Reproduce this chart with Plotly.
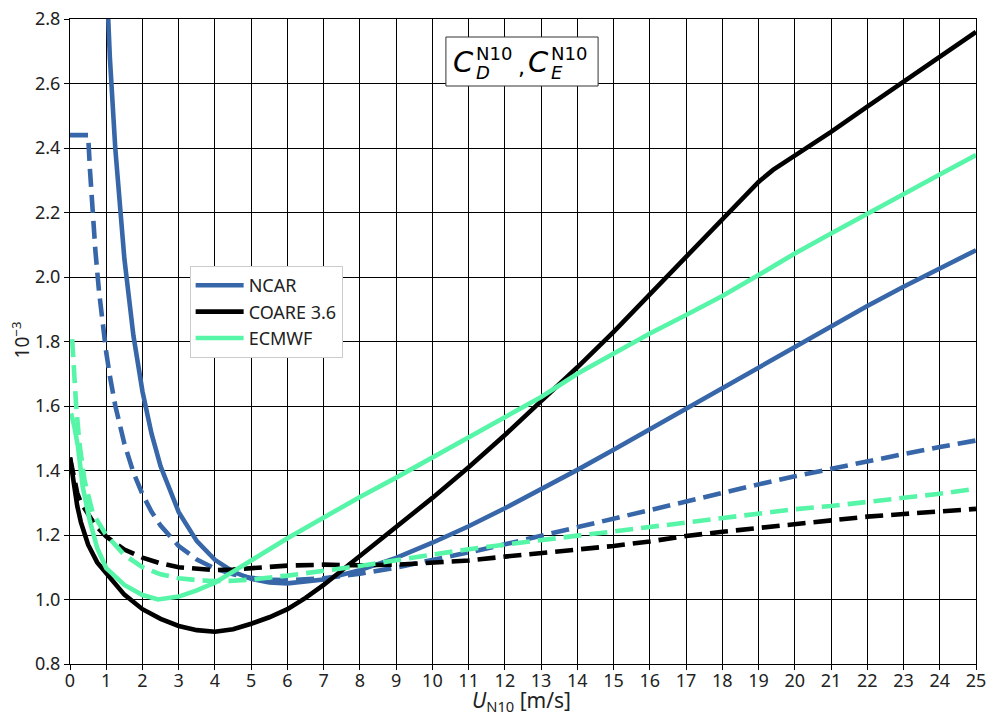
import plotly.graph_objects as go

# ---------------- data ----------------
ncar_cd_u = [0.9, 1.0, 1.1, 1.25, 1.5, 1.75, 2.0, 2.25, 2.5, 3.0, 3.5, 4.0, 4.5, 5.0, 5.5, 6.0,
             7.0, 8.0, 9.0, 10.0, 11.0, 12.0, 13.0, 14.0, 15.0, 16.0, 17.0, 18.0, 19.0, 20.0,
             21.0, 22.0, 23.0, 24.0, 25.0]
ncar_cd = [3.211, 2.918, 2.681, 2.398, 2.057, 1.818, 1.645, 1.514, 1.413, 1.271, 1.181, 1.123, 1.086,
           1.064, 1.053, 1.050, 1.062, 1.091, 1.129, 1.176, 1.227, 1.283, 1.341, 1.402, 1.464, 1.528,
           1.592, 1.656, 1.721, 1.785, 1.848, 1.910, 1.970, 2.028, 2.083]

ncar_ce_u = [0.0, 0.5, 0.55, 0.6, 0.7, 0.8, 0.9, 1.0, 1.1, 1.25, 1.5, 1.75, 2.0, 2.25, 2.5, 3.0, 3.5,
             4.0, 4.5, 5.0, 5.5, 6.0, 7.0, 8.0, 9.0, 10.0, 11.0, 12.0, 13.0, 14.0, 15.0, 16.0, 17.0,
             18.0, 19.0, 20.0, 21.0, 22.0, 23.0, 24.0, 25.0]
ncar_ce = [2.44, 2.44, 2.334, 2.239, 2.082, 1.956, 1.853, 1.766, 1.693, 1.601, 1.483, 1.394, 1.326,
           1.272, 1.229, 1.166, 1.124, 1.096, 1.078, 1.067, 1.061, 1.060, 1.066, 1.080, 1.099, 1.121,
           1.146, 1.171, 1.198, 1.224, 1.251, 1.278, 1.305, 1.331, 1.357, 1.382, 1.406, 1.429, 1.451,
           1.473, 1.493]

coare_cd_u = [0.0, 0.1, 0.2, 0.3, 0.5, 0.75, 1.0, 1.5, 2.0, 2.5, 3.0, 3.5, 4.0, 4.5, 5.0, 5.5, 6.0,
              6.5, 7.0, 7.5, 8.0, 9.0, 10.0, 11.0, 12.0, 13.0, 14.0, 15.0, 16.0, 17.0, 18.0, 19.0,
              19.4, 20.0, 21.0, 22.0, 23.0, 24.0, 25.0]
coare_cd = [1.44, 1.36, 1.29, 1.24, 1.17, 1.115, 1.08, 1.015, 0.97, 0.94, 0.918, 0.905, 0.90, 0.908,
            0.925, 0.945, 0.97, 1.005, 1.045, 1.09, 1.135, 1.225, 1.315, 1.41, 1.51, 1.615, 1.72,
            1.83, 1.945, 2.06, 2.18, 2.295, 2.332, 2.375, 2.45, 2.528, 2.605, 2.683, 2.76]

coare_ce_u = [0.0, 0.1, 0.2, 0.3, 0.45, 0.7, 1.0, 1.5, 2.0, 2.5, 3.0, 3.5, 4.0, 4.5, 5.0, 6.0, 7.0,
              8.0, 9.0, 10.0, 11.0, 12.0, 13.0, 14.0, 15.0, 16.0, 17.0, 18.0, 19.0, 20.0, 21.0,
              22.0, 23.0, 24.0, 25.0]
coare_ce = [1.44, 1.38, 1.33, 1.30, 1.275, 1.23, 1.195, 1.155, 1.13, 1.112, 1.10, 1.094, 1.091,
            1.093, 1.097, 1.105, 1.108, 1.106, 1.108, 1.114, 1.121, 1.133, 1.143, 1.153, 1.166,
            1.18, 1.197, 1.21, 1.222, 1.236, 1.247, 1.257, 1.265, 1.273, 1.281]

ecmwf_cd_u = [0.03, 0.12, 0.22, 0.35, 0.54, 0.75, 1.0, 1.5, 2.0, 2.43, 3.0, 3.5, 4.0, 4.5, 5.0, 6.0,
              7.0, 8.0, 9.0, 10.0, 11.0, 12.0, 13.0, 14.0, 15.0, 16.0, 17.0, 18.0, 19.0, 20.0,
              21.0, 22.0, 23.0, 24.0, 25.0]
ecmwf_cd = [1.577, 1.536, 1.474, 1.35, 1.247, 1.16, 1.097, 1.045, 1.014, 1.0, 1.009, 1.028, 1.052,
            1.085, 1.121, 1.19, 1.255, 1.318, 1.378, 1.44, 1.50, 1.565, 1.628, 1.70, 1.763, 1.825,
            1.882, 1.941, 2.006, 2.073, 2.135, 2.197, 2.256, 2.318, 2.378]

ecmwf_ce_u = [0.06, 0.1, 0.17, 0.26, 0.4, 0.63, 1.0, 1.5, 2.0, 2.5, 3.0, 3.5, 4.0, 4.5, 5.0, 6.0,
              7.0, 8.0, 9.0, 10.0, 11.0, 12.0, 13.0, 14.0, 15.0, 16.0, 17.0, 18.0, 19.0, 20.0,
              21.0, 22.0, 23.0, 24.0, 25.0]
ecmwf_ce = [1.807, 1.72, 1.60, 1.484, 1.37, 1.267, 1.20, 1.138, 1.10, 1.078, 1.066, 1.06, 1.057,
            1.058, 1.062, 1.074, 1.088, 1.104, 1.122, 1.14, 1.156, 1.17, 1.185, 1.198, 1.211,
            1.225, 1.238, 1.252, 1.265, 1.28, 1.29, 1.302, 1.315, 1.328, 1.343]

x_ticks = list(range(0, 26))
y_ticks = [0.8, 1.0, 1.2, 1.4, 1.6, 1.8, 2.0, 2.2, 2.4, 2.6, 2.8]

BLUE = "#3767A8"
BLACK = "#000000"
GREEN = "#57F5A8"
LW = 4.6
DASH = "18px,8px"
FONT = "Noto Sans"

fig = go.Figure()

def add(x, y, name, color, dash, legend):
    fig.add_trace(go.Scatter(x=x, y=y, mode="lines", name=name, showlegend=legend,
                             line=dict(color=color, width=LW, dash=dash)))

add(ncar_cd_u, ncar_cd, "NCAR", BLUE, "solid", True)
add(ncar_ce_u, ncar_ce, "NCAR", BLUE, DASH, False)
add(coare_cd_u, coare_cd, "COARE 3.6", BLACK, "solid", True)
add(coare_ce_u, coare_ce, "COARE 3.6", BLACK, DASH, False)
add(ecmwf_cd_u, ecmwf_cd, "ECMWF", GREEN, "solid", True)
add(ecmwf_ce_u, ecmwf_ce, "ECMWF", GREEN, DASH, False)

axis_common = dict(showgrid=True, gridcolor="black", gridwidth=1, showline=True,
                   linecolor="black", linewidth=1, mirror=True, ticks="outside",
                   ticklen=5, tickcolor="black", zeroline=False, automargin=False,
                   tickfont=dict(family=FONT, size=18, color="#222222"))

fig.update_xaxes(range=[0, 25], tickvals=x_ticks, ticktext=[str(v) for v in x_ticks],
                 ticklabelstandoff=-5, **axis_common)
fig.update_yaxes(range=[0.8, 2.8], tickvals=y_ticks, ticktext=[f"{v:.1f}" for v in y_ticks],
                 **axis_common)

px0, px1, py0, py1 = 70.5, 975.5, 19.0, 664.0
def px(x):
    return (x - px0) / (px1 - px0)
def py(y):
    return (py1 - y) / (py1 - py0)

# axis titles
fig.add_annotation(text="<i>U</i><sub>N10</sub> [m/s]", xref="paper", yref="paper",
                   x=px(522), y=py(701), xanchor="center", yanchor="middle", showarrow=False,
                   font=dict(family=FONT, size=21, color="#222222"))
fig.add_annotation(text="10<sup>−3</sup>", xref="paper", yref="paper",
                   x=px(22), y=py(340), xanchor="center", yanchor="middle", showarrow=False,
                   textangle=-90, font=dict(family=FONT, size=19, color="#222222"))

# title box with stacked sub/superscripts
fig.add_shape(type="rect", xref="paper", yref="paper", x0=px(446), x1=px(598), y0=py(86), y1=py(37),
              line=dict(color="#333333", width=1), fillcolor="white", layer="above")

MF = "DejaVu Sans"
pieces = [
    ("<i>C</i>", 451, 62, 29),
    ("N10", 474, 53, 18),
    ("<i>D</i>", 474, 73, 18),
    (",", 516, 67, 22),
    ("<i>C</i>", 526, 62, 29),
    ("N10", 549, 53, 18),
    ("<i>E</i>", 549, 73, 18),
]
for txt, x, y, s in pieces:
    fig.add_annotation(text=txt, xref="paper", yref="paper", x=px(x), y=py(y),
                       xanchor="left", yanchor="middle", showarrow=False,
                       font=dict(family=MF, size=s, color="black"))

fig.update_layout(
    width=987, height=713,
    margin=dict(l=70, r=11, t=19, b=49, autoexpand=False),
    plot_bgcolor="white", paper_bgcolor="white",
    font=dict(family=FONT, size=18, color="#222222"),
    legend=dict(x=px(190), y=py(266), xanchor="left", yanchor="top",
                bgcolor="white", bordercolor="#cccccc", borderwidth=1,
                font=dict(family=FONT, size=18, color="#222222"),
                tracegroupgap=0, itemwidth=48),
    showlegend=True,
)

fig.write_html("out.html", config={"displayModeBar": False},
               post_script="document.body.style.margin='0';document.body.style.overflow='hidden';")
